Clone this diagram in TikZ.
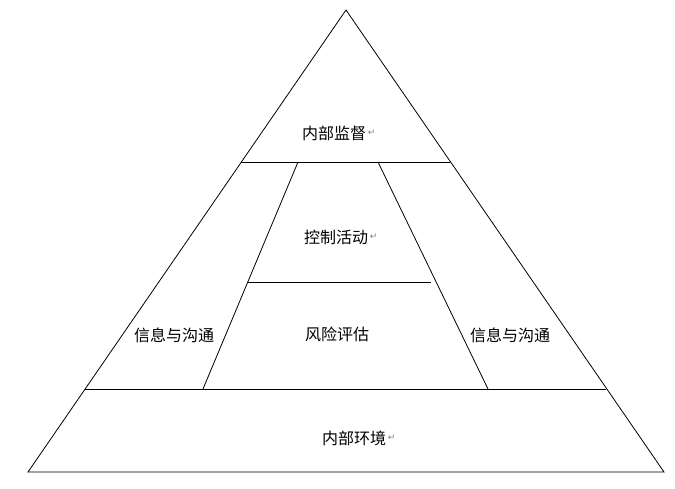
\documentclass[tikz,border=0pt]{standalone}
\usepackage{fontspec}
\newfontfamily\cjk{Noto Sans CJK SC}
\newfontfamily\dv{DejaVu Sans}
\begin{document}
\begin{tikzpicture}[x=1pt,y=-1pt,line width=0.8pt,
  lbl/.style={font=\cjk\fontsize{16}{18}\selectfont,inner sep=0pt},
  ret/.style={font=\dv\fontsize{9}{10}\selectfont,text=gray,inner sep=0pt,anchor=west,xshift=1pt}]
\useasboundingbox[fill=white] (0,0) rectangle (675,488);
\draw (346,10) -- (664,472) -- (28,472) -- cycle;
\draw (241,162) -- (450,162);
\draw (85,389) -- (606,389);
\draw (298,162) -- (203,389);
\draw (378,162) -- (488,389);
\draw (248,282) -- (431,282);
\node[lbl] (a) at (334,133) {内部监督}; \node[ret] (ar) at (a.east) {↵};
\node[lbl] (b) at (336,237) {控制活动}; \node[ret] (br) at (b.east) {↵};
\node[lbl] (c) at (337,334) {风险评估};
\node[lbl] (d) at (174,335) {信息与沟通};
\node[lbl] (e) at (510,335) {信息与沟通};
\node[lbl] (f) at (354,438) {内部环境}; \node[ret] (fr) at (f.east) {↵};
\end{tikzpicture}
\end{document}
